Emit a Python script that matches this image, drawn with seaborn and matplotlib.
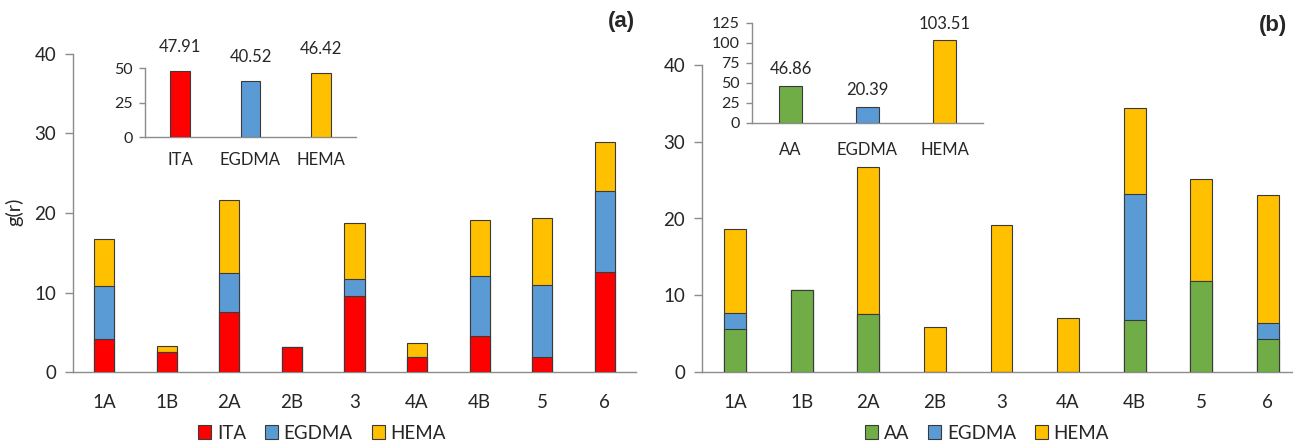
import numpy as np
import pandas as pd
import matplotlib
matplotlib.use("Agg")
import matplotlib.pyplot as plt
from matplotlib.patches import Patch
import seaborn as sns

# Sites along the x axis
sites = ["1A", "1B", "2A", "2B", "3", "4A", "4B", "5", "6"]

# Panel (a): ITA / EGDMA / HEMA contributions to g(r)
ita_a = [4.2, 2.5, 7.6, 3.2, 9.6, 1.85, 4.55, 1.85, 12.6]
egdma_a = [6.6, 0.0, 4.9, 0.0, 2.1, 0.0, 7.5, 9.1, 10.2]
hema_a = [5.9, 0.75, 9.1, 0.0, 7.1, 1.8, 7.05, 8.45, 6.15]

# Panel (b): AA / EGDMA / HEMA contributions to g(r)
aa_b = [5.6, 10.7, 7.6, 0.0, 0.0, 0.0, 6.75, 11.9, 4.3]
egdma_b = [2.1, 0.0, 0.0, 0.0, 0.0, 0.0, 16.4, 0.0, 2.05]
hema_b = [10.95, 0.0, 19.15, 5.8, 19.2, 7.05, 11.3, 13.3, 16.7]

# Inset totals
inset_a_names = ["ITA", "EGDMA", "HEMA"]
inset_a_vals = [47.91, 40.52, 46.42]
inset_b_names = ["AA", "EGDMA", "HEMA"]
inset_b_vals = [46.86, 20.39, 103.51]

RED = "#FF0000"
BLUE = "#5B9BD5"
YELLOW = "#FFC000"
GREEN = "#70AD47"
EDGE = "#3a3a3a"
AXCOL = "#8c8c8c"

sns.set_theme(style="white")
plt.rcParams["font.family"] = ["Lato", "DejaVu Sans"]

W, H = 1293, 444
fig = plt.figure(figsize=(W / 100, H / 100), dpi=100)


def box(x0, x1, ytop, ybot):
    return [x0 / W, 1 - ybot / H, (x1 - x0) / W, (ybot - ytop) / H]


def stacked(ax, parts, colors, width):
    # draw cumulative totals back-to-front so each segment shows its own band
    cum = np.cumsum(np.array(parts), axis=0)
    for level in range(len(parts) - 1, -1, -1):
        df = pd.DataFrame({"site": sites, "val": cum[level]})
        sns.barplot(data=df, x="site", y="val", order=sites, color=colors[level],
                    saturation=1, width=width, edgecolor=EDGE, linewidth=0.8,
                    ax=ax, zorder=2 + (len(parts) - level))


def style_main(ax, ymax):
    ax.set_xlim(-0.5, len(sites) - 0.5)
    ax.set_ylim(0, ymax)
    ax.set_yticks([0, 10, 20, 30, 40])
    for s in ["top", "right"]:
        ax.spines[s].set_visible(False)
    for s in ["left", "bottom"]:
        ax.spines[s].set_color(AXCOL)
        ax.spines[s].set_linewidth(1.0)
    ax.tick_params(axis="y", length=6, width=1, color=AXCOL, direction="out",
                   labelsize=13.5, pad=6, left=True)
    ax.tick_params(axis="x", length=0, labelsize=13.5, pad=16)
    ax.set_xlabel("")
    ax.set_ylabel("")
    ax.set_facecolor("none")


def inset_bars(ax, names, vals, colors, ymax, yticks, width, label_off, xpad):
    df = pd.DataFrame({"name": names, "val": vals})
    sns.barplot(data=df, x="name", y="val", hue="name", palette=colors,
                saturation=1, width=width, edgecolor=EDGE, linewidth=0.8,
                legend=False, ax=ax, zorder=3)
    for i, v in enumerate(vals):
        ax.annotate(f"{v:.2f}", xy=(i, v), xytext=(0, label_off),
                    textcoords="offset points", ha="center", va="center",
                    fontsize=12)
    ax.set_xlim(-0.5, len(names) - 0.5)
    ax.set_ylim(0, ymax)
    ax.set_yticks(yticks)
    for s in ["top", "right"]:
        ax.spines[s].set_visible(False)
    for s in ["left", "bottom"]:
        ax.spines[s].set_color(AXCOL)
        ax.spines[s].set_linewidth(1.0)
    ax.tick_params(axis="y", length=4, width=1, color=AXCOL, direction="out",
                   labelsize=11.5, pad=5, left=True)
    ax.tick_params(axis="x", length=0, labelsize=12, pad=xpad)
    ax.set_xlabel("")
    ax.set_ylabel("")
    ax.patch.set_alpha(0)


def legend_at(xc, labels, colors):
    fig.legend(handles=[Patch(facecolor=c, edgecolor=EDGE, linewidth=0.8, label=l)
                        for c, l in zip(colors, labels)],
               loc="center", bbox_to_anchor=(xc / W, 1 - 433 / H), ncol=3,
               frameon=False, fontsize=13.5, handlelength=0.7, handleheight=0.7,
               handletextpad=0.3, columnspacing=1.0)


# ---------- panel (a) ----------
ax_a = fig.add_axes(box(73, 636, 54, 372))
stacked(ax_a, [ita_a, egdma_a, hema_a], [RED, BLUE, YELLOW], 0.32)
style_main(ax_a, 40)
fig.text(14 / W, 1 - 212 / H, "g(r)", rotation=90, fontsize=14.5,
         ha="center", va="center")

ins_a = fig.add_axes(box(145, 356, 68, 137))
inset_bars(ins_a, inset_a_names, inset_a_vals, [RED, BLUE, YELLOW], 50,
           [0, 25, 50], 0.28, 17, 11)

fig.text(621 / W, 1 - 21 / H, "(a)", fontsize=16, fontweight="bold",
         family=["Liberation Sans", "DejaVu Sans"], ha="center", va="center")
legend_at(322, ["ITA", "EGDMA", "HEMA"], [RED, BLUE, YELLOW])

# ---------- panel (b) ----------
ax_b = fig.add_axes(box(702, 1301, 65, 372))
stacked(ax_b, [aa_b, egdma_b, hema_b], [GREEN, BLUE, YELLOW], 0.33)
style_main(ax_b, 40)

ins_b = fig.add_axes(box(752, 983, 23, 123))
inset_bars(ins_b, inset_b_names, inset_b_vals, [GREEN, BLUE, YELLOW], 125,
           [0, 25, 50, 75, 100, 125], 0.31, 12, 14)

fig.text(1273 / W, 1 - 26 / H, "(b)", fontsize=16, fontweight="bold",
         family=["Liberation Sans", "DejaVu Sans"], ha="center", va="center")
legend_at(987, ["AA", "EGDMA", "HEMA"], [GREEN, BLUE, YELLOW])

fig.savefig("out.png", dpi=100, facecolor="white")
